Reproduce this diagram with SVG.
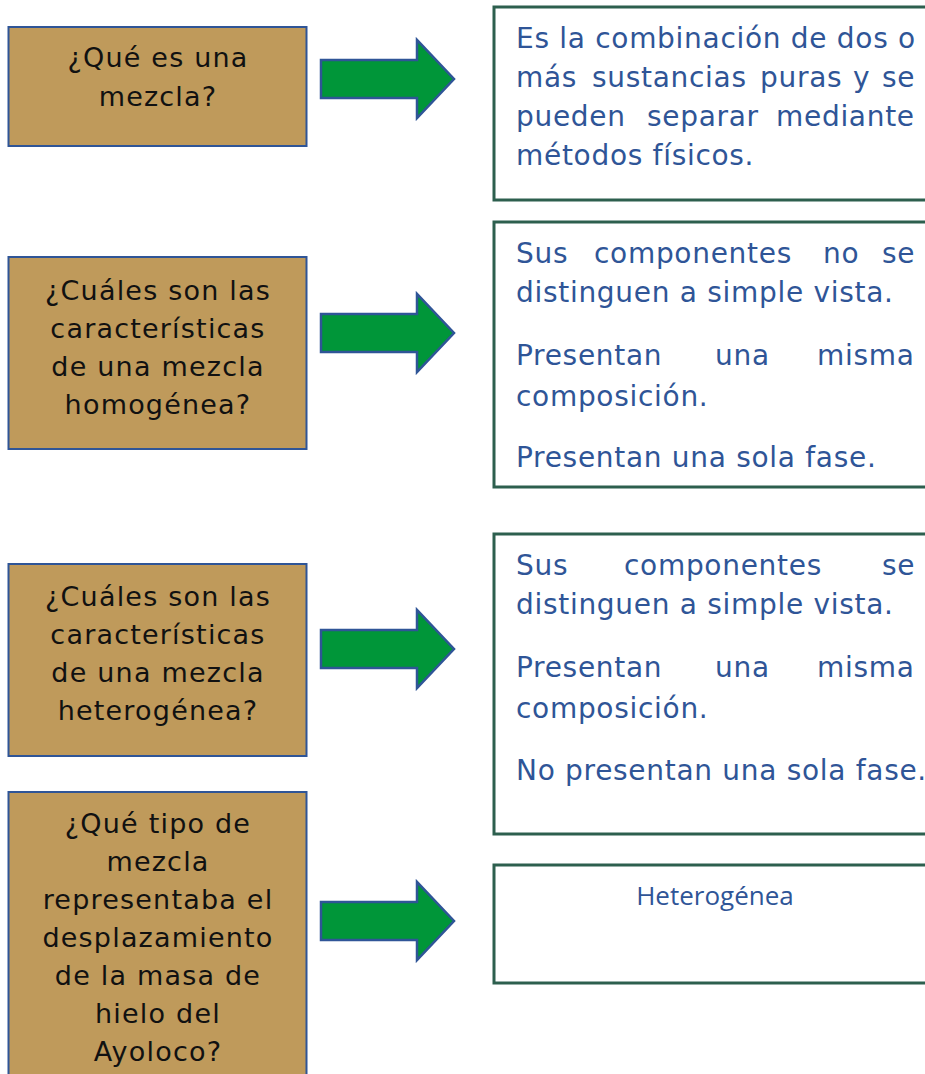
<svg xmlns="http://www.w3.org/2000/svg" width="925" height="1074" viewBox="0 0 925 1074">
<style>
.q rect{fill:#BF9A5B;stroke:#2F5597;stroke-width:2}
.q text{font-family:"DejaVu Sans",sans-serif;font-size:27px;letter-spacing:1.2px;fill:#111;text-anchor:middle}
.a rect{fill:#fff;stroke:#2D5F4E;stroke-width:3}
.a text{font-family:"DejaVu Sans",sans-serif;font-size:28px;letter-spacing:0.7px;fill:#2F5597}
.a text.c{font-family:"Open Sans","Noto Sans",sans-serif;font-size:26px;letter-spacing:0;text-anchor:middle}
.arr path{fill:#009639;stroke:#2F5597;stroke-width:2.5;stroke-linejoin:miter}
</style>
<rect width="925" height="1074" fill="#fff"/>
<g id="q1" class="q">
<rect x="8.5" y="27" width="298" height="119"/>
<text x="158" y="67">¿Qué es una</text>
<text x="158" y="106">mezcla?</text>
</g>
<g id="q2" class="q">
<rect x="8.5" y="257" width="298" height="192"/>
<text x="158" y="300">¿Cuáles son las</text>
<text x="158" y="338">características</text>
<text x="158" y="376">de una mezcla</text>
<text x="158" y="414">homogénea?</text>
</g>
<g id="q3" class="q">
<rect x="8.5" y="564" width="298" height="192"/>
<text x="158" y="606">¿Cuáles son las</text>
<text x="158" y="644">características</text>
<text x="158" y="682">de una mezcla</text>
<text x="158" y="720">heterogénea?</text>
</g>
<g id="q4" class="q">
<rect x="8.5" y="792" width="298" height="300"/>
<text x="158" y="833">¿Qué tipo de</text>
<text x="158" y="871">mezcla</text>
<text x="158" y="909">representaba el</text>
<text x="158" y="947">desplazamiento</text>
<text x="158" y="985">de la masa de</text>
<text x="158" y="1023">hielo del</text>
<text x="158" y="1061">Ayoloco?</text>
</g>
<g id="connectors" class="arr">
<path d="M321,60 H417 V40 L454,79 L417,118 V98 H321 Z"/>
<path d="M321,314 H417 V294 L454,333 L417,372 V352 H321 Z"/>
<path d="M321,630 H417 V610 L454,649 L417,688 V668 H321 Z"/>
<path d="M321,902 H417 V882 L454,921 L417,960 V940 H321 Z"/>
</g>
<g id="a1" class="a">
<rect x="494" y="7" width="450" height="193"/>
<text x="516" y="48">Es la combinación de dos o</text>
<text y="87"><tspan x="516">más</tspan> <tspan x="592">sustancias</tspan> <tspan x="760">puras</tspan> <tspan x="853">y</tspan> <tspan x="882">se</tspan></text>
<text y="126"><tspan x="516">pueden</tspan> <tspan x="647">separar</tspan> <tspan x="776">mediante</tspan></text>
<text x="516" y="165">métodos físicos.</text>
</g>
<g id="a2" class="a">
<rect x="494" y="222" width="450" height="265"/>
<text y="263"><tspan x="516">Sus</tspan> <tspan x="594">componentes</tspan> <tspan x="823">no</tspan> <tspan x="882">se</tspan></text>
<text x="516" y="302">distinguen a simple vista.</text>
<text y="365"><tspan x="516">Presentan</tspan> <tspan x="715">una</tspan> <tspan x="817">misma</tspan></text>
<text x="516" y="406">composición.</text>
<text x="516" y="467">Presentan una sola fase.</text>
</g>
<g id="a3" class="a">
<rect x="494" y="534" width="450" height="300"/>
<text y="575"><tspan x="516">Sus</tspan> <tspan x="624">componentes</tspan> <tspan x="882">se</tspan></text>
<text x="516" y="614">distinguen a simple vista.</text>
<text y="677"><tspan x="516">Presentan</tspan> <tspan x="715">una</tspan> <tspan x="817">misma</tspan></text>
<text x="516" y="718">composición.</text>
<text x="516" y="780">No presentan una sola fase.</text>
</g>
<g id="a4" class="a">
<rect x="494" y="865" width="450" height="118"/>
<text class="c" x="715" y="905">Heterogénea</text>
</g>
</svg>
